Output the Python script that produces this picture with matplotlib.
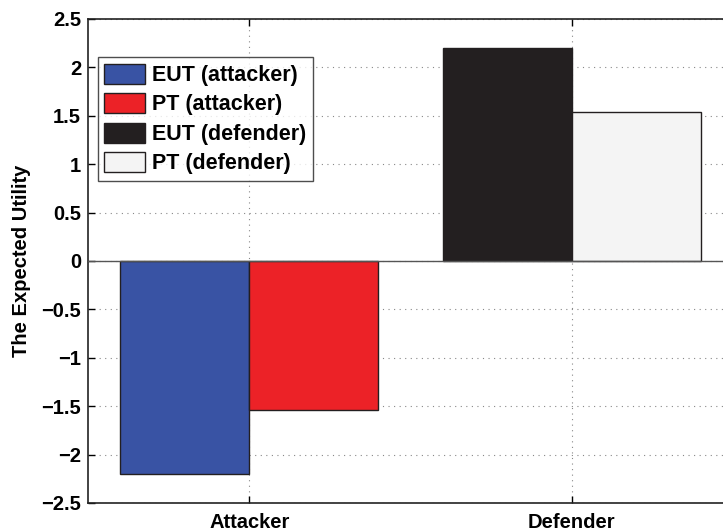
import numpy as np
import matplotlib
matplotlib.use('Agg')
import matplotlib.pyplot as plt

plt.rcParams['font.family'] = ['Liberation Sans', 'DejaVu Sans']
plt.rcParams['font.weight'] = 'bold'

groups = ['Attacker', 'Defender']
series_names = ['EUT (attacker)', 'PT (attacker)', 'EUT (defender)', 'PT (defender)']
series_values = [-2.2, -1.54, 2.2, 1.54]
series_groups = [1, 1, 2, 2]
series_offsets = [-0.2, 0.2, -0.2, 0.2]
series_colors = ['#3953a4', '#ec2227', '#231f20', '#f4f4f4']
yticks = [-2.5, -2, -1.5, -1, -0.5, 0, 0.5, 1, 1.5, 2, 2.5]

fs = 14.5

fig = plt.figure(figsize=(7.23, 5.31), dpi=100)
ax = fig.add_axes([88 / 723, 1 - 503 / 531, 645 / 723, 484 / 531])

for name, val, g, off, col in zip(series_names, series_values, series_groups,
                                  series_offsets, series_colors):
    ax.bar(g + off, val, width=0.4, color=col, edgecolor='#231f20',
           linewidth=1.0, label=name, zorder=2)

ax.axhline(0, color='#555555', linewidth=1.0, zorder=3)
ax.set_xlim(0.5, 2.5)
ax.set_ylim(-2.5, 2.5)
ax.set_xticks([1, 2])
ax.set_xticklabels(groups)
ax.set_yticks(yticks)
ax.set_yticklabels([('\u2212' + str(abs(v)).rstrip('0').rstrip('.')) if v < 0
                    else str(v).rstrip('0').rstrip('.') if v != 0 else '0'
                    for v in yticks])
ax.tick_params(direction='in', length=5, labelsize=fs, width=1, top=True)
ax.tick_params(axis='x', pad=7)
ax.tick_params(axis='y', pad=5)
ax.grid(True, linestyle=(0, (1, 4)), color='#888888', linewidth=0.8, zorder=0)
ax.set_axisbelow(True)
for s in ax.spines.values():
    s.set_linewidth(1.2)
    s.set_color('#222222')
for lbl in ax.get_xticklabels() + ax.get_yticklabels():
    lbl.set_fontweight('bold')

ax.set_ylabel('The Expected Utility', fontsize=fs, fontweight='bold', labelpad=7)

leg = ax.legend(loc='upper left', bbox_to_anchor=(0.0155, 0.921), fontsize=15.5,
                frameon=True, fancybox=False, edgecolor='#222222',
                handlelength=1.9, handleheight=1.05, labelspacing=0.33,
                handletextpad=0.3, borderpad=0.3, borderaxespad=0)
leg.get_frame().set_linewidth(1.0)
for t in leg.get_texts():
    t.set_fontweight('bold')

fig.savefig('out.png', dpi=100)
